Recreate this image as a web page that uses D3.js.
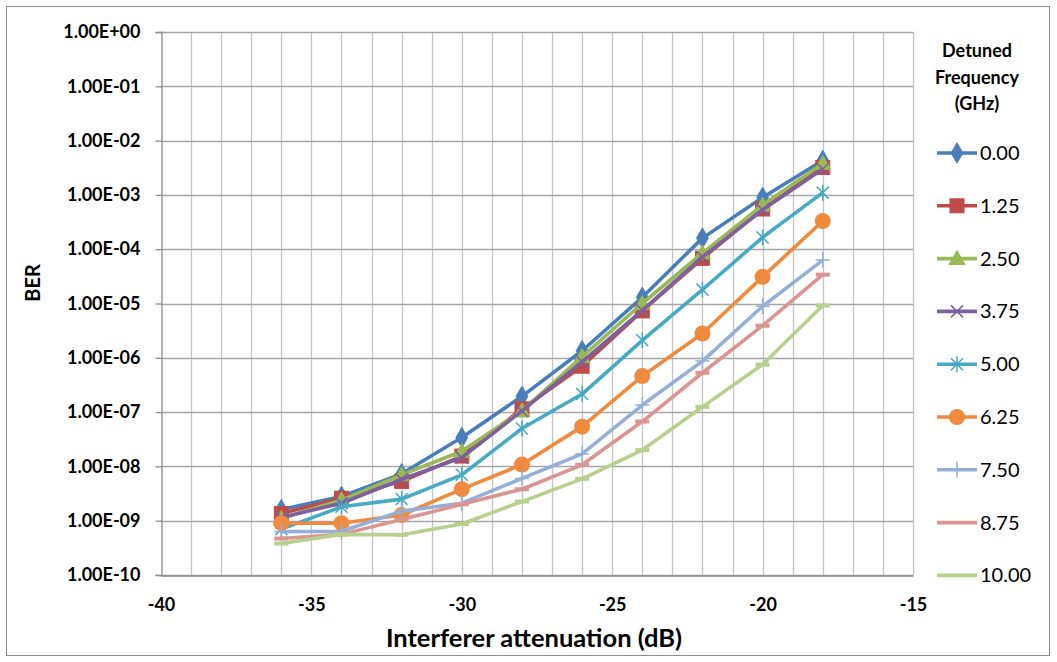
<!DOCTYPE html>
<html><head><meta charset="utf-8">
<script src="https://cdn.jsdelivr.net/npm/d3@7"></script>
<style>
body{margin:0;background:#fff;}
svg{display:block;font-family:Lato, "Open Sans", sans-serif;}
</style></head><body>
<svg id="c" width="1057" height="662"></svg>
<script>
const attenuation = [-36,-34,-32,-30,-28,-26,-24,-22,-20,-18];
const seriesNames = ["0.00","1.25","2.50","3.75","5.00","6.25","7.50","8.75","10.00"];
const ber000 = [1.6e-9, 2.8e-9, 7.3e-9, 3.4e-8, 1.95e-7, 1.35e-6, 1.3e-5, 1.6e-4, 9.0e-4, 4.3e-3];
const ber125 = [1.35e-9, 2.6e-9, 5.3e-9, 1.55e-8, 1.15e-7, 7.0e-7, 7.3e-6, 6.8e-5, 5.5e-4, 3.2e-3];
const ber250 = [1.1e-9, 2.4e-9, 7.0e-9, 1.9e-8, 1.05e-7, 1.05e-6, 1.0e-5, 8.5e-5, 6.5e-4, 3.8e-3];
const ber375 = [1.15e-9, 2.1e-9, 5.8e-9, 1.45e-8, 1.05e-7, 8.4e-7, 7.5e-6, 7.2e-5, 5.3e-4, 3.0e-3];
const ber500 = [7.0e-10, 1.8e-9, 2.5e-9, 7.0e-9, 5.0e-8, 2.15e-7, 2.1e-6, 1.8e-5, 1.65e-4, 1.1e-3];
const ber625 = [9.0e-10, 9.0e-10, 1.27e-9, 3.8e-9, 1.08e-8, 5.4e-8, 4.6e-7, 2.8e-6, 3.1e-5, 3.3e-4];
const ber750 = [6.3e-10, 6.4e-10, 1.5e-9, 2.1e-9, 6.0e-9, 1.7e-8, 1.35e-7, 8.7e-7, 8.9e-6, 6.3e-5];
const ber875 = [4.7e-10, 5.6e-10, 1.05e-9, 2.0e-9, 3.8e-9, 1.07e-8, 6.7e-8, 5.3e-7, 3.9e-6, 3.4e-5];
const ber1000 = [3.8e-10, 5.6e-10, 5.5e-10, 8.7e-10, 2.25e-9, 5.9e-9, 2.0e-8, 1.25e-7, 7.5e-7, 9.2e-6];
const xTicks = [-40,-35,-30,-25,-20,-15];
const xTickLabels = ["-40","-35","-30","-25","-20","-15"];
const yTicks = [1e0,1e-1,1e-2,1e-3,1e-4,1e-5,1e-6,1e-7,1e-8,1e-9,1e-10];
const yTickLabels = ["1.00E+00","1.00E-01","1.00E-02","1.00E-03","1.00E-04","1.00E-05","1.00E-06","1.00E-07","1.00E-08","1.00E-09","1.00E-10"];

const allSeries = [ber000,ber125,ber250,ber375,ber500,ber625,ber750,ber875,ber1000];
const colors = ["#4A7EBB","#BE4B48","#98B954","#7D60A0","#46AAC5","#F08A3C","#95AFD8","#DA9593","#B7D08E"];
const markers = ["diamond","square","triangle","x","star","circle","plus","dash","dash"];

const svg = d3.select("#c");
const L=161, R=913, T=32, B=575;
const x = d3.scaleLinear().domain([-40,-15]).range([L,R]);
const y = d3.scaleLog().domain([1e-10,1]).range([B,T]);

svg.append("rect").attr("x",6.5).attr("y",6.5).attr("width",1043).attr("height",649)
  .attr("fill","none").attr("stroke","#8c8c8c").attr("stroke-width",1);

const g = svg.append("g");
d3.range(-39,-14,1).forEach(v=>{
  g.append("line").attr("x1",Math.round(x(v))+0.5).attr("x2",Math.round(x(v))+0.5)
   .attr("y1",T).attr("y2",B).attr("stroke","#c4c4c4").attr("stroke-width",1.3);
});
yTicks.forEach(v=>{
  g.append("line").attr("x1",L).attr("x2",R).attr("y1",Math.round(y(v))+0.5).attr("y2",Math.round(y(v))+0.5)
   .attr("stroke","#a6a6a6").attr("stroke-width",1.3);
});

const yAxis = d3.axisLeft(y).tickValues(yTicks).tickFormat((d,i)=>yTickLabels[i]).tickSize(6).tickPadding(15);
const ya = svg.append("g").attr("transform",`translate(${L+0.5},0)`).call(yAxis);
ya.select(".domain").attr("stroke","#8c8c8c").attr("stroke-width",1.3);
ya.selectAll(".tick line").attr("stroke","#8c8c8c").attr("stroke-width",1.3);
ya.selectAll(".tick text").attr("font-family","Lato").attr("font-weight","bold").attr("font-size",18).attr("fill","#000");

const xAxis = d3.axisBottom(x).tickValues(xTicks).tickFormat((d,i)=>xTickLabels[i]).tickSize(0).tickPadding(23);
const xa = svg.append("g").attr("transform",`translate(0,${B+0.5})`).call(xAxis);
xa.select(".domain").attr("stroke","#8c8c8c").attr("stroke-width",1.3);
xa.selectAll(".tick text").attr("font-family","Lato").attr("font-weight","bold").attr("font-size",18).attr("fill","#000");

svg.append("text").attr("x",(L+R)/2-3).attr("y",647).attr("text-anchor","middle")
  .attr("font-weight","bold").attr("font-size",25.5).text("Interferer attenuation (dB)");
svg.append("text").attr("transform","translate(40,283) rotate(-90)").attr("text-anchor","middle")
  .attr("font-weight","bold").attr("font-size",20).text("BER");

function marker(sel, type, color){
  if(type==="diamond"){
    sel.append("path").attr("d",d3.symbol(d3.symbolDiamond, 120)()).attr("fill",color).attr("stroke",color).attr("stroke-width",1);
  } else if(type==="square"){
    sel.append("rect").attr("x",-7).attr("y",-7).attr("width",14).attr("height",14).attr("fill",color).attr("stroke",color);
  } else if(type==="triangle"){
    sel.append("path").attr("d","M0,-8L8,6L-8,6Z").attr("fill",color).attr("stroke",color);
  } else if(type==="circle"){
    sel.append("circle").attr("r",8).attr("fill",color);
  } else if(type==="x"){
    sel.append("path").attr("d","M-6,-6L6,6M-6,6L6,-6").attr("stroke",color).attr("stroke-width",1.5).attr("fill","none");
  } else if(type==="star"){
    sel.append("path").attr("d","M-6,-6L6,6M-6,6L6,-6M0,-8L0,8").attr("stroke",color).attr("stroke-width",1.5).attr("fill","none");
  } else if(type==="plus"){
    sel.append("path").attr("d","M-7,0L7,0M0,-8L0,8").attr("stroke",color).attr("stroke-width",1.5).attr("fill","none");
  } else if(type==="dash"){
    sel.append("path").attr("d","M-7,0L7,0").attr("stroke",color).attr("stroke-width",4).attr("fill","none");
  }
}

const line = d3.line().x((d,i)=>x(attenuation[i])).y(d=>y(d));
const plot = svg.append("g");
allSeries.forEach((vals,si)=>{
  const sg = plot.append("g");
  sg.append("path").datum(vals).attr("d",line).attr("fill","none")
    .attr("stroke",colors[si]).attr("stroke-width",3.6).attr("stroke-linejoin","round");
  vals.forEach((v,i)=>{
    const m = sg.append("g").attr("transform",`translate(${x(attenuation[i])},${y(v)})`);
    marker(m, markers[si], colors[si]);
  });
});

const lg = svg.append("g");
["Detuned","Frequency","(GHz)"].forEach((t,i)=>{
  lg.append("text").attr("x",977).attr("y",57+i*26.5).attr("text-anchor","middle")
    .attr("font-weight","bold").attr("font-size",18).text(t);
});
seriesNames.forEach((n,i)=>{
  const yy = 153 + i*52.8;
  lg.append("line").attr("x1",937).attr("x2",977).attr("y1",yy).attr("y2",yy)
    .attr("stroke",colors[i]).attr("stroke-width",3.6);
  const m = lg.append("g").attr("transform",`translate(957,${yy})`);
  if(markers[i]!=="dash") marker(m, markers[i], colors[i]);
  lg.append("text").attr("x",980).attr("y",yy+7).attr("font-size",20).text(n);
});
</script>
</body></html>
